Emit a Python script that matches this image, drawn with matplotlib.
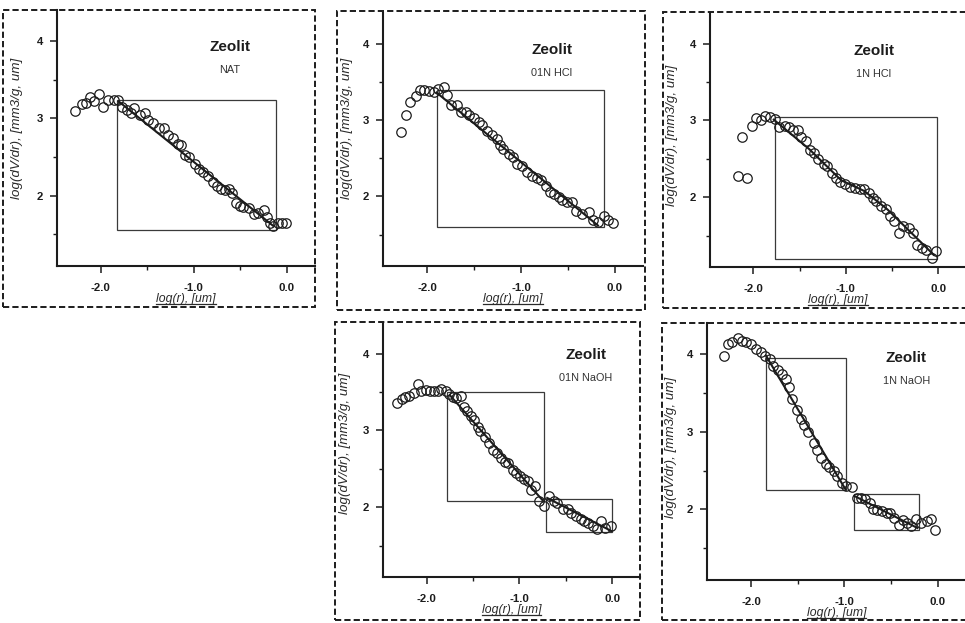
import matplotlib
matplotlib.use("Agg")
import matplotlib.pyplot as plt
from matplotlib.lines import Line2D
from matplotlib.patches import Rectangle

plt.rcParams['font.family'] = ['Liberation Sans', 'DejaVu Sans']

W, H = 965, 623
INK = '#1c1c1c'

# ---------------- data: log(r) vs log(dV/dr) ----------------
nat_x = [-2.28, -2.20, -2.16, -2.12, -2.07, -2.02, -1.98, -1.92, -1.86, -1.82,
         -1.77, -1.72, -1.68, -1.64, -1.58, -1.53, -1.49, -1.44, -1.38, -1.32,
         -1.28, -1.22, -1.17, -1.14, -1.10, -1.05, -0.99, -0.95, -0.90, -0.85,
         -0.80, -0.75, -0.71, -0.67, -0.62, -0.59, -0.55, -0.51, -0.47, -0.41,
         -0.36, -0.31, -0.25, -0.22, -0.18, -0.15, -0.10, -0.05, -0.01]
nat_y = [3.09, 3.18, 3.20, 3.28, 3.22, 3.31, 3.15, 3.23, 3.24, 3.23,
         3.14, 3.11, 3.07, 3.13, 3.04, 3.07, 2.98, 2.94, 2.87, 2.88,
         2.78, 2.74, 2.67, 2.65, 2.52, 2.50, 2.41, 2.35, 2.30, 2.26,
         2.17, 2.13, 2.09, 2.07, 2.09, 2.03, 1.91, 1.87, 1.85, 1.84,
         1.76, 1.78, 1.81, 1.73, 1.64, 1.61, 1.64, 1.65, 1.65]
nat_fit_x = [-1.81, -0.15]
nat_fit_y = [3.22, 1.61]
nat_box = (-1.83, -0.12, 1.56, 3.23)

hcl01_x = [-2.28, -2.22, -2.18, -2.12, -2.08, -2.03, -1.98, -1.93, -1.88, -1.82,
           -1.79, -1.75, -1.68, -1.64, -1.59, -1.55, -1.50, -1.45, -1.41, -1.36,
           -1.31, -1.26, -1.22, -1.19, -1.13, -1.09, -1.04, -0.99, -0.94, -0.88,
           -0.83, -0.79, -0.73, -0.69, -0.65, -0.60, -0.56, -0.51, -0.46, -0.41,
           -0.35, -0.28, -0.23, -0.18, -0.12, -0.07, -0.02]
hcl01_y = [2.84, 3.07, 3.24, 3.32, 3.39, 3.39, 3.38, 3.37, 3.40, 3.43,
           3.33, 3.19, 3.20, 3.10, 3.10, 3.06, 3.03, 2.97, 2.93, 2.86,
           2.80, 2.75, 2.67, 2.62, 2.55, 2.51, 2.43, 2.40, 2.32, 2.27,
           2.24, 2.21, 2.14, 2.06, 2.03, 1.99, 1.96, 1.93, 1.93, 1.81,
           1.77, 1.80, 1.69, 1.67, 1.75, 1.69, 1.65]
hcl01_fit_x = [-1.90, -0.18]
hcl01_fit_y = [3.36, 1.62]
hcl01_box = (-1.90, -0.12, 1.60, 3.39)

hcl1_x = [-2.17, -2.07, -2.12, -2.02, -1.97, -1.92, -1.87, -1.82, -1.77, -1.72,
          -1.66, -1.62, -1.57, -1.52, -1.48, -1.43, -1.39, -1.34, -1.30, -1.24,
          -1.20, -1.15, -1.11, -1.06, -1.01, -0.96, -0.90, -0.85, -0.80, -0.75,
          -0.71, -0.67, -0.62, -0.57, -0.52, -0.48, -0.43, -0.38, -0.32, -0.27,
          -0.23, -0.18, -0.13, -0.07, -0.03]
hcl1_y = [2.28, 2.25, 2.78, 2.93, 3.03, 3.00, 3.06, 3.05, 3.02, 2.92,
          2.93, 2.92, 2.88, 2.88, 2.79, 2.73, 2.62, 2.57, 2.50, 2.43,
          2.40, 2.32, 2.25, 2.20, 2.17, 2.13, 2.12, 2.11, 2.10, 2.06,
          1.99, 1.95, 1.89, 1.84, 1.76, 1.69, 1.53, 1.62, 1.60, 1.53,
          1.38, 1.34, 1.31, 1.21, 1.30]
hcl1_fit_x = [-1.78, -1.40, -1.05, -0.80, -0.55, -0.05]
hcl1_fit_y = [3.01, 2.63, 2.22, 2.08, 1.84, 1.25]
hcl1_box = (-1.77, -0.01, 1.20, 3.05)

naoh01_x = [-2.32, -2.27, -2.23, -2.19, -2.14, -2.09, -2.06, -2.01, -1.96, -1.92,
            -1.88, -1.84, -1.79, -1.76, -1.72, -1.68, -1.63, -1.60, -1.56, -1.52,
            -1.49, -1.45, -1.42, -1.37, -1.33, -1.28, -1.24, -1.20, -1.16, -1.12,
            -1.07, -1.04, -0.99, -0.95, -0.91, -0.88, -0.83, -0.79, -0.73, -0.68,
            -0.63, -0.59, -0.53, -0.48, -0.44, -0.39, -0.34, -0.30, -0.26, -0.21,
            -0.16, -0.12, -0.08, -0.01]
naoh01_y = [3.36, 3.41, 3.43, 3.45, 3.49, 3.60, 3.52, 3.53, 3.52, 3.51,
            3.52, 3.54, 3.51, 3.48, 3.43, 3.42, 3.45, 3.31, 3.25, 3.19,
            3.14, 3.05, 2.99, 2.92, 2.84, 2.75, 2.70, 2.64, 2.59, 2.57,
            2.49, 2.45, 2.41, 2.37, 2.34, 2.23, 2.27, 2.08, 2.02, 2.14,
            2.08, 2.06, 1.98, 1.98, 1.93, 1.89, 1.85, 1.82, 1.80, 1.76,
            1.71, 1.82, 1.73, 1.76]
naoh01_fit1_x = [-1.75, -0.75]
naoh01_fit1_y = [3.46, 2.09]
naoh01_fit2_x = [-0.70, -0.01]
naoh01_fit2_y = [2.12, 1.69]
naoh01_box1 = (-1.78, -0.74, 2.08, 3.50)
naoh01_box2 = (-0.71, 0.00, 1.67, 2.10)

naoh1_x = [-2.29, -2.25, -2.20, -2.14, -2.10, -2.05, -2.00, -1.95, -1.89, -1.85,
           -1.80, -1.76, -1.71, -1.67, -1.63, -1.59, -1.56, -1.51, -1.46, -1.43,
           -1.39, -1.33, -1.29, -1.25, -1.20, -1.16, -1.11, -1.08, -1.03, -0.98,
           -0.92, -0.87, -0.82, -0.78, -0.73, -0.69, -0.65, -0.60, -0.55, -0.51,
           -0.47, -0.42, -0.37, -0.33, -0.29, -0.23, -0.18, -0.12, -0.07, -0.03]
naoh1_y = [3.98, 4.13, 4.15, 4.21, 4.17, 4.15, 4.13, 4.07, 4.03, 3.98,
           3.93, 3.85, 3.80, 3.74, 3.68, 3.58, 3.42, 3.28, 3.16, 3.09,
           2.99, 2.86, 2.77, 2.66, 2.59, 2.54, 2.49, 2.43, 2.34, 2.30,
           2.29, 2.14, 2.14, 2.13, 2.08, 2.01, 1.99, 1.98, 1.95, 1.95,
           1.89, 1.80, 1.86, 1.83, 1.78, 1.87, 1.83, 1.85, 1.88, 1.73]
naoh1_fit1_x = [-1.84, -0.99]
naoh1_fit1_y = [3.98, 2.26]
naoh1_fit2_x = [-0.89, -0.22]
naoh1_fit2_y = [2.17, 1.76]
naoh1_box1 = (-1.84, -0.98, 2.25, 3.95)
naoh1_box2 = (-0.90, -0.20, 1.73, 2.20)

titles = ['NAT', '01N HCl', '1N HCl', '01N NaOH', '1N NaOH']

XLIM = (-2.47, 0.30)
YLIM = (1.09, 4.40)

fig = plt.figure(figsize=(W / 100, H / 100), dpi=100)
fig.patch.set_facecolor('white')


def fig_rect(l, r, t, b):
    """Convert a pixel box (left, right, top, bottom) to figure fractions."""
    return [l / W, 1 - b / H, (r - l) / W, (b - t) / H]


def panel(px, frame, x, y, fits, boxes, sub, txt_xy, ylab_px):
    l, r, t, b = px
    ax = fig.add_axes(fig_rect(l, r, t, b))
    ax.set_xlim(*XLIM)
    ax.set_ylim(*YLIM)
    ax.set_facecolor('none')
    for s in ('top', 'right'):
        ax.spines[s].set_visible(False)
    for s in ('left', 'bottom'):
        ax.spines[s].set_linewidth(1.5)
        ax.spines[s].set_color(INK)

    for (x0, x1, y0, y1) in boxes:
        ax.add_patch(Rectangle((x0, y0), x1 - x0, y1 - y0, fill=False,
                               ec='#3a3a3a', lw=0.9, zorder=2))
    for fx, fy in fits:
        ax.plot(fx, fy, color=INK, lw=1.5, zorder=3)
    ax.plot(x, y, 'o', mfc='none', mec=INK, ms=6.8, mew=0.9, zorder=4)

    ax.set_xticks([-2, -1, 0])
    ax.set_xticklabels(['-2.0', '-1.0', '0.0'])
    ax.set_xticks([-1.5, -0.5], minor=True)
    ax.set_yticks([2, 3, 4])
    ax.set_yticks([1.5, 2.5, 3.5], minor=True)
    ax.tick_params(which='major', direction='out', length=5, width=1.1,
                   color=INK, labelsize=8.2, labelcolor=INK)
    ax.tick_params(which='minor', direction='out', length=3, width=1.0, color=INK)
    ax.tick_params(axis='x', which='major', pad=7)
    ax.tick_params(axis='y', which='major', pad=5)
    for lab in ax.get_yticklabels() + ax.get_xticklabels():
        lab.set_fontweight('bold')

    # axis titles, placed by their centres
    lx, ly = ylab_px
    ax.set_ylabel('log(dV/dr), [mm3/g, um]', fontsize=9.6, style='italic',
                  color='#2a2a2a')
    ax.yaxis.label.set_va('center')
    ax.yaxis.set_label_coords((lx - l) / (r - l), 1 - (ly - t) / (b - t))
    ax.set_xlabel('log(r), [um]', fontsize=8.8, style='italic', color='#2a2a2a')
    ax.xaxis.label.set_va('center')
    ax.xaxis.set_label_coords(0.5, -33 / (b - t))

    tx, ty = txt_xy
    ax.text(tx, ty, 'Zeolit', transform=ax.transAxes, ha='center', va='center',
            fontsize=11, fontweight='bold', color=INK)
    ax.text(tx, ty - 0.09, sub, transform=ax.transAxes, ha='center',
            va='center', fontsize=7.8, color='#333333')

    fl, fr, ft, fb = frame
    fig.add_artist(Rectangle((fl / W, 1 - fb / H), (fr - fl) / W, (fb - ft) / H,
                             transform=fig.transFigure, fill=False, ec=INK,
                             lw=1.4, ls=(0, (3.2, 1.6))))
    return ax


axes = [
    panel((57, 315, 10, 266), (3, 315, 10, 307), nat_x, nat_y,
          [(nat_fit_x, nat_fit_y)], [nat_box], titles[0],
          (0.67, 0.855), (17, 128)),
    panel((383, 643, 13, 266), (337, 645, 11, 310), hcl01_x, hcl01_y,
          [(hcl01_fit_x, hcl01_fit_y)], [hcl01_box], titles[1],
          (0.65, 0.854), (347, 128)),
    panel((710, 966, 13, 267), (663, 970, 12, 308), hcl1_x, hcl1_y,
          [(hcl1_fit_x, hcl1_fit_y)], [hcl1_box], titles[2],
          (0.64, 0.85), (672, 135)),
    panel((383, 640, 323, 577), (335, 640, 322, 620), naoh01_x, naoh01_y,
          [(naoh01_fit1_x, naoh01_fit1_y), (naoh01_fit2_x, naoh01_fit2_y)],
          [naoh01_box1, naoh01_box2], titles[3],
          (0.79, 0.874), (345, 443)),
    panel((707, 966, 323, 580), (662, 970, 323, 620), naoh1_x, naoh1_y,
          [(naoh1_fit1_x, naoh1_fit1_y), (naoh1_fit2_x, naoh1_fit2_y)],
          [naoh1_box1, naoh1_box2], titles[4],
          (0.77, 0.864), (671, 447)),
]

# underline the x-axis titles
fig.canvas.draw()
renderer = fig.canvas.get_renderer()
for ax in axes:
    bb = ax.xaxis.label.get_window_extent(renderer)
    yline = (bb.y0 + 1.0) / H
    fig.add_artist(Line2D([bb.x0 / W, bb.x1 / W], [yline, yline],
                          transform=fig.transFigure, color='#2a2a2a', lw=0.9))

fig.savefig('out.png', dpi=100, facecolor='white')
